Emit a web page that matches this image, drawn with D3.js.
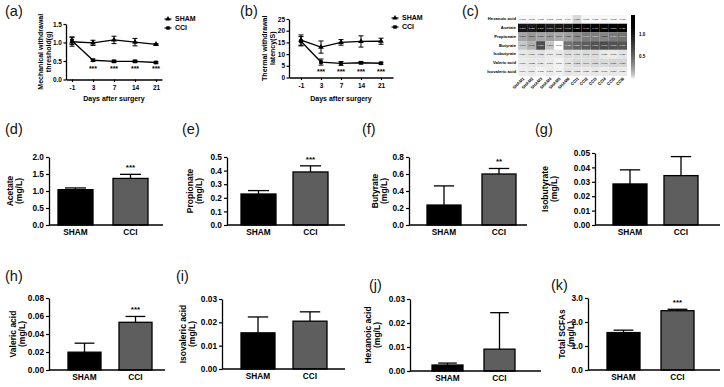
<!DOCTYPE html>
<html><head><meta charset="utf-8">
<script src="https://cdn.jsdelivr.net/npm/d3@7"></script>
<style>
html,body{margin:0;padding:0;background:#fff;}
svg{display:block;font-family:"Liberation Sans",Arial,sans-serif;}
.b{font-weight:bold;}
</style></head>
<body><svg id="c" width="724" height="387"></svg>
<script>
// ---------- DATA ----------
const days = ["-1","3","7","14","21"];
const mechSham = [1.02, 0.99, 1.07, 1.01, 0.95];
const mechShamErr = [0.12, 0.07, 0.10, 0.10, 0.02];
const mechCci = [1.05, 0.52, 0.49, 0.49, 0.46];
const mechCciErr = [0.10, 0.03, 0.03, 0.03, 0.02];
const mechSig = ["", "***", "***", "***", "***"];
const mechTicks = [0, 0.5, 1.0, 1.5];

const thermSham = [16.0, 13.0, 15.0, 15.4, 15.5];
const thermShamErr = [2.2, 2.6, 1.2, 2.4, 1.3];
const thermCci = [15.5, 6.6, 6.0, 6.3, 6.1];
const thermCciErr = [2.0, 1.3, 0.8, 0.5, 0.4];
const thermSig = ["", "***", "***", "***", "***"];
const thermTicks = [0, 5, 10, 15, 20, 25];

const seriesNames = ["SHAM", "CCI"];

const heatRows = ["Hexanoic acid","Acetate","Propionate","Butyrate","Isobutyrate","Valeric acid","Isovaleric acid"];
const heatCols = ["SHAM1","SHAM2","SHAM3","SHAM4","SHAM5","SHAM6","CCI1","CCI2","CCI3","CCI4","CCI5","CCI6"];
const heatHexanoic   = [0.003,0.003,0.002,0.003,0.002,0.004,0.050,0.003,0.003,0.004,0.003,0.003];
const heatAcetate    = [1.05,1.02,1.10,1.00,1.03,1.04,1.35,1.45,1.40,1.30,1.38,1.42];
const heatPropionate = [0.21,0.27,0.21,0.24,0.19,0.23,0.32,0.40,0.39,0.35,0.41,0.44];
const heatButyrate   = [0.10,0.17,0.65,0.10,0.00,0.45,0.52,0.57,0.63,0.66,0.63,0.61];
const heatIsobutyrate= [0.024,0.030,0.033,0.018,0.021,0.045,0.039,0.048,0.049,0.021,0.018,0.030];
const heatValeric    = [0.017,0.023,0.024,0.019,0.007,0.031,0.053,0.046,0.057,0.048,0.059,0.057];
const heatIsovaleric = [0.014,0.019,0.008,0.017,0.009,0.028,0.023,0.020,0.025,0.017,0.024,0.018];
const heatTicks = [0.5, 1.0];

const barGroups = ["SHAM", "CCI"];
const acetate = [1.04, 1.37],        acetateErr = [0.05, 0.12];
const propionate = [0.228, 0.39],    propionateErr = [0.025, 0.045];
const butyrate = [0.235, 0.60],      butyrateErr = [0.225, 0.065];
const isobutyrate = [0.0285, 0.0343],isobutyrateErr = [0.0098, 0.0132];
const valeric = [0.0198, 0.0530],    valericErr = [0.0100, 0.0065];
const isovaleric = [0.0155, 0.0205], isovalericErr = [0.0068, 0.0040];
const hexanoic = [0.0025, 0.0091],   hexanoicErr = [0.0008, 0.0152];
const totalScfa = [1.56, 2.47],      totalScfaErr = [0.10, 0.06];

// ---------- DRAW ----------
const svg = d3.select("#c");
const FONT = "Liberation Sans, Arial, sans-serif";

function panelLabel(t, x, y){
  svg.append("text").attr("x",x).attr("y",y).attr("font-size",14.5).attr("fill","#111").text(t);
}
function styleAxis(g, fs){
  g.selectAll("path.domain").attr("stroke","#000").attr("stroke-width",1.3);
  g.selectAll(".tick line").attr("stroke","#000").attr("stroke-width",1.2);
  g.selectAll(".tick text").attr("font-family",FONT).attr("font-weight","bold").attr("font-size",fs).attr("fill","#000");
}
function rotLabel(lines, x0, dx, cy, fs){
  lines.forEach((l,i)=>{
    svg.append("text").attr("class","b").attr("font-size",fs)
      .attr("text-anchor","middle")
      .attr("transform",`translate(${x0+i*dx},${cy}) rotate(-90)`)
      .attr("dominant-baseline","middle").text(l);
  });
}

function lineChart(cfg){
  const x = d3.scalePoint().domain(days).range([cfg.x0, cfg.x1]).padding(cfg.pad);
  const y = d3.scaleLinear().domain([cfg.ticks[0], cfg.ticks[cfg.ticks.length-1]]).range([cfg.yb, cfg.yt]);
  const gy = svg.append("g").attr("transform",`translate(${cfg.x0},0)`)
    .call(d3.axisLeft(y).tickValues(cfg.ticks).tickFormat(cfg.fmt).tickSize(2.5).tickPadding(1.5).tickSizeOuter(0));
  styleAxis(gy, 6.5);
  const gx = svg.append("g").attr("transform",`translate(0,${cfg.yb})`)
    .call(d3.axisBottom(x).tickSize(2.5).tickPadding(3).tickSizeOuter(0));
  styleAxis(gx, 6.5);
  const series = [
    {name:"SHAM", v:cfg.sham, e:cfg.shamErr, sym:d3.symbolTriangle},
    {name:"CCI", v:cfg.cci, e:cfg.cciErr, sym:d3.symbolSquare}
  ];
  series.forEach(s=>{
    const pts = days.map((d,i)=>({d, v:s.v[i], e:s.e[i]}));
    svg.append("path").datum(pts).attr("fill","none").attr("stroke","#000").attr("stroke-width",1.3)
      .attr("d", d3.line().x(p=>x(p.d)).y(p=>y(p.v)));
    const eg = svg.append("g").attr("stroke","#000").attr("stroke-width",1);
    pts.forEach(p=>{
      const cx = x(p.d), y1 = y(p.v+p.e), y2 = y(p.v-p.e);
      eg.append("line").attr("x1",cx).attr("x2",cx).attr("y1",y1).attr("y2",y2);
      eg.append("line").attr("x1",cx-2.5).attr("x2",cx+2.5).attr("y1",y1).attr("y2",y1);
      eg.append("line").attr("x1",cx-2.5).attr("x2",cx+2.5).attr("y1",y2).attr("y2",y2);
    });
    svg.append("g").selectAll("path").data(pts).join("path")
      .attr("transform",p=>`translate(${x(p.d)},${y(p.v)})`)
      .attr("d", d3.symbol().type(s.sym).size(14)).attr("fill","#000");
  });
  svg.append("g").selectAll("text").data(days).join("text")
    .attr("class","b").attr("font-size",7).attr("text-anchor","middle")
    .attr("x",d=>x(d)).attr("y",cfg.sigY).text((d,i)=>cfg.sig[i]);
  svg.append("text").attr("class","b").attr("font-size",7).attr("text-anchor","middle")
    .attr("x",(cfg.x0+cfg.x1)/2).attr("y",cfg.xlabY).text("Days after surgery");
  rotLabel(cfg.ylab, cfg.ylabX, 8, (cfg.yt+cfg.yb)/2, 7);
  series.forEach((s,i)=>{
    const ly = cfg.legY + i*9;
    svg.append("line").attr("x1",cfg.legX-3.5).attr("x2",cfg.legX+3.5).attr("y1",ly).attr("y2",ly)
      .attr("stroke","#000").attr("stroke-width",1.2);
    svg.append("path").attr("transform",`translate(${cfg.legX},${ly})`)
      .attr("d", d3.symbol().type(s.sym).size(12)).attr("fill","#000");
    svg.append("text").attr("class","b").attr("font-size",7).attr("x",cfg.legX+7).attr("y",ly)
      .attr("dominant-baseline","middle").text(seriesNames[i]);
  });
}

panelLabel("(a)", 5, 16);
lineChart({x0:66, x1:162, pad:0.2857, yt:24, yb:79.5, ticks:mechTicks, fmt:d3.format(".1f"),
  sham:mechSham, shamErr:mechShamErr, cci:mechCci, cciErr:mechCciErr, sig:mechSig, sigY:70.5,
  xlabY:100.5, ylab:["Mechanical withdrawal","threshold(g)"], ylabX:41, legX:168, legY:19});

panelLabel("(b)", 240, 16);
lineChart({x0:289, x1:393, pad:0.6, yt:19, yb:77.5, ticks:thermTicks, fmt:d3.format("d"),
  sham:thermSham, shamErr:thermShamErr, cci:thermCci, cciErr:thermCciErr, sig:thermSig, sigY:74,
  xlabY:100.5, ylab:["Thermal withdrawal","latency(S)"], ylabX:265, legX:395, legY:18});

// ---------- Heatmap ----------
panelLabel("(c)", 462, 16);
const heatData = [heatHexanoic, heatAcetate, heatPropionate, heatButyrate, heatIsobutyrate, heatValeric, heatIsovaleric];
const hx = d3.scaleBand().domain(heatCols).range([518, 627]);
const hy = d3.scaleBand().domain(heatRows).range([15, 76]);
const tScale = d3.scalePow().exponent(0.6).domain([0, 1.2]).range([0,1]).clamp(true);
const hColor = v => d3.interpolateRgb("#ffffff", "#000000")(tScale(v));
const cells = [];
heatRows.forEach((r,i)=>heatCols.forEach((c,j)=>cells.push({r,c,v:heatData[i][j]})));
svg.append("g").selectAll("rect").data(cells).join("rect")
  .attr("x",d=>hx(d.c)).attr("y",d=>hy(d.r)).attr("width",hx.bandwidth()).attr("height",hy.bandwidth())
  .attr("fill",d=>hColor(d.v));
svg.append("g").selectAll("text").data(cells).join("text")
  .attr("x",d=>hx(d.c)+hx.bandwidth()/2).attr("y",d=>hy(d.r)+hy.bandwidth()/2)
  .attr("text-anchor","middle").attr("dominant-baseline","middle").attr("font-size",2.4)
  .attr("fill",d=>tScale(d.v)>0.5?"#fff":"#000").text(d=>d.v.toFixed(3));
svg.append("g").selectAll("text").data(heatRows).join("text")
  .attr("class","b").attr("font-size",4.2).attr("text-anchor","end").attr("dominant-baseline","middle")
  .attr("x",516).attr("y",d=>hy(d)+hy.bandwidth()/2).text(d=>d);
svg.append("g").selectAll("text").data(heatCols).join("text")
  .attr("class","b").attr("font-size",4.2).attr("text-anchor","end")
  .attr("transform",d=>`translate(${hx(d)+hx.bandwidth()/2+2},${79}) rotate(-45)`).text(d=>d);
const cbY = d3.scaleLinear().domain([0, 1.45]).range([79, 15]);
const grad = svg.append("defs").append("linearGradient").attr("id","cb").attr("x1",0).attr("x2",0).attr("y1",1).attr("y2",0);
d3.range(0, 1.451, 0.05).forEach(v=>grad.append("stop").attr("offset",v/1.45).attr("stop-color",hColor(v)));
svg.append("rect").attr("x",631).attr("y",cbY(1.45)).attr("width",4).attr("height",cbY(0)-cbY(1.45)).attr("fill","url(#cb)");
svg.append("g").selectAll("text").data(heatTicks).join("text")
  .attr("class","b").attr("font-size",4.5).attr("x",639).attr("y",d=>cbY(d)).attr("dominant-baseline","middle")
  .text(d=>d.toFixed(1));

// ---------- Bar charts ----------
function barChart(cfg){
  const x = d3.scaleBand().domain(barGroups).range([cfg.bl, cfg.br])
    .paddingInner((cfg.br-cfg.bl-2*cfg.bw)/(cfg.br-cfg.bl-cfg.bw)).paddingOuter(0);
  const y = d3.scaleLinear().domain([0, cfg.ticks[cfg.ticks.length-1]]).range([cfg.base, cfg.top]);
  const rows = barGroups.map((g,i)=>({g, v:cfg.v[i], e:cfg.e[i]}));
  svg.append("g").selectAll("rect").data(rows).join("rect")
    .attr("x",d=>x(d.g)).attr("y",d=>y(d.v)).attr("width",x.bandwidth()).attr("height",d=>y(0)-y(d.v))
    .attr("fill",(d,i)=>i===0?"#000":"#5e5e5e").attr("stroke","#000").attr("stroke-width",1.3);
  const eg = svg.append("g").attr("stroke","#000").attr("stroke-width",1.3);
  rows.forEach(d=>{
    const cx = x(d.g)+x.bandwidth()/2;
    eg.append("line").attr("x1",cx).attr("x2",cx).attr("y1",y(d.v)).attr("y2",y(d.v+d.e));
    eg.append("line").attr("x1",cx-x.bandwidth()*0.3).attr("x2",cx+x.bandwidth()*0.3).attr("y1",y(d.v+d.e)).attr("y2",y(d.v+d.e));
  });
  if (cfg.sig) {
    const d = rows[1];
    svg.append("text").attr("class","b").attr("font-size",8).attr("text-anchor","middle")
      .attr("x",x(d.g)+x.bandwidth()/2).attr("y",y(d.v+d.e)-4).text(cfg.sig);
  }
  const gy = svg.append("g").attr("transform",`translate(${cfg.ax},0)`)
    .call(d3.axisLeft(y).tickValues(cfg.ticks).tickFormat(cfg.fmt).tickSize(3).tickPadding(2).tickSizeOuter(0));
  styleAxis(gy, 8.3);
  svg.append("line").attr("x1",cfg.ax).attr("x2",cfg.xe).attr("y1",cfg.base).attr("y2",cfg.base)
    .attr("stroke","#000").attr("stroke-width",1.3);
  const gx = svg.append("g").attr("transform",`translate(0,${cfg.base})`)
    .call(d3.axisBottom(x).tickSize(0).tickPadding(4));
  gx.select("path.domain").remove();
  styleAxis(gx, 8.3);
  rotLabel(cfg.ylab, cfg.lx, 9, (cfg.top+cfg.base)/2, 8.5);
  panelLabel(cfg.label, cfg.plx, cfg.ply);
}

const f1 = d3.format(".1f"), f2 = d3.format(".2f");
barChart({label:"(d)", plx:5, ply:134, ax:49, xe:163, bl:58, br:148, bw:35, top:157, base:225,
  ticks:[0,0.5,1.0,1.5,2.0], fmt:f1, v:acetate, e:acetateErr, sig:"***", ylab:["Acetate","(mg/L)"], lx:11});
barChart({label:"(e)", plx:182, ply:134, ax:227, xe:345, bl:241, br:328, bw:35, top:157, base:225,
  ticks:[0,0.1,0.2,0.3,0.4,0.5], fmt:f1, v:propionate, e:propionateErr, sig:"***", ylab:["Propionate","(mg/L)"], lx:191});
barChart({label:"(f)", plx:362, ply:134, ax:409, xe:527, bl:427, br:516, bw:34, top:157, base:225,
  ticks:[0,0.2,0.4,0.6,0.8], fmt:f1, v:butyrate, e:butyrateErr, sig:"**", ylab:["Butyrate","(mg/L)"], lx:376});
barChart({label:"(g)", plx:535, ply:134, ax:595, xe:720, bl:613, br:698, bw:34, top:153, base:225,
  ticks:[0,0.01,0.02,0.03,0.04,0.05], fmt:f2, v:isobutyrate, e:isobutyrateErr, sig:"", ylab:["Isobutyrate","(mg/L)"], lx:546});

barChart({label:"(h)", plx:5, ply:281, ax:49, xe:165, bl:68, br:152, bw:33, top:298, base:370,
  ticks:[0,0.02,0.04,0.06,0.08], fmt:f2, v:valeric, e:valericErr, sig:"***", ylab:["Valeric acid","(mg/L)"], lx:14});
barChart({label:"(i)", plx:176, ply:281, ax:222, xe:345, bl:241, br:327, bw:34, top:299, base:369,
  ticks:[0,0.01,0.02,0.03], fmt:f2, v:isovaleric, e:isovalericErr, sig:"", ylab:["Isovaleric acid","(mg/L)"], lx:184});
barChart({label:"(j)", plx:369, ply:290, ax:410, xe:541, bl:432, br:515, bw:31, top:299, base:371,
  ticks:[0,0.01,0.02,0.03], fmt:f2, v:hexanoic, e:hexanoicErr, sig:"", ylab:["Hexanoic acid","(mg/L)"], lx:369});
barChart({label:"(k)", plx:551, ply:290, ax:588, xe:720, bl:607, br:694, bw:33, top:298, base:370,
  ticks:[0,1.0,2.0,3.0], fmt:f1, v:totalScfa, e:totalScfaErr, sig:"***", ylab:["Total SCFAs","(mg/L)"], lx:563});
</script></body></html>
